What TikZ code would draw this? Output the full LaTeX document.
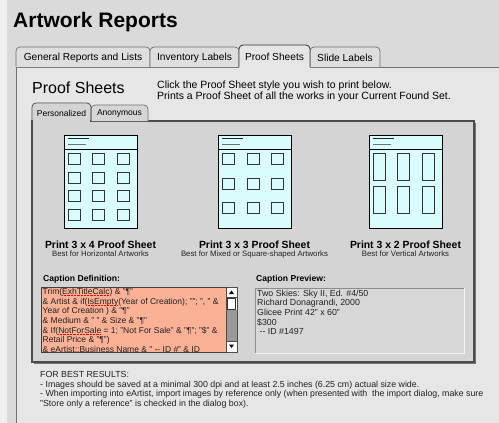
\documentclass[tikz,border=0pt]{standalone}
\usepackage{fontspec}
\setmainfont{Liberation Sans}
\usetikzlibrary{positioning}

\definecolor{winbg}{HTML}{DADADA}
\definecolor{winedge}{HTML}{EFEFEF}
\definecolor{panelbg}{HTML}{E6E6E6}
\definecolor{innerbg}{HTML}{D4D4D4}
\definecolor{tabbg}{HTML}{DEDEDE}
\definecolor{tabline}{HTML}{707070}
\definecolor{sheetcol}{HTML}{D9FDFD}
\definecolor{capfill}{HTML}{FAB195}
\definecolor{prevfill}{HTML}{D7D7D7}
\definecolor{darktext}{HTML}{222222}

% red dotted spell-check underline
\newcommand\spellmark[1]{\setbox0\hbox{#1}\rlap{\color{red}\raisebox{-1.6pt}{\hbox to \wd0{\xleaders\hbox{\rule{0.7pt}{0.7pt}\hspace{0.7pt}}\hfil}}}#1}

\begin{document}
\begin{tikzpicture}[x=1pt, y=-1pt,
    tab/.style={draw=tabline, fill=tabbg, line width=0.7pt, rounded corners=4pt},
    tabtext/.style={font=\fontsize{10.2}{12}\selectfont, inner sep=0pt},
    subtext/.style={font=\fontsize{8.5}{10}\selectfont, inner sep=0pt},
    sheet/.style={draw=black, fill=sheetcol, line width=1pt, minimum width=73pt, minimum height=93pt, inner sep=0pt},
    cell/.style={draw=black!80, fill=sheetcol, line width=0.9pt},
    hdr/.style={line width=1.1pt},
    print/.style={font=\bfseries\fontsize{10.4}{12}\selectfont, inner sep=0pt},
    best/.style={font=\fontsize{7.8}{9}\selectfont, inner sep=0pt, text=darktext},
    caption/.style={font=\bfseries\fontsize{8.6}{10}\selectfont, inner sep=0pt, anchor=west},
    code/.style={font=\fontsize{8.5}{9.7}\selectfont, inner sep=0pt, anchor=north west, align=left, text=darktext},
    info/.style={font=\fontsize{8.8}{9.7}\selectfont, inner sep=0pt, anchor=north west, align=left, text=darktext}]
  \useasboundingbox (0,0) rectangle (499,423);
  % window
  \fill[winbg] (0,0) rectangle (499,423);
  \fill[winedge] (0,0) rectangle (7,423);
  \node[anchor=west, inner sep=0pt, font=\bfseries\fontsize{21}{24}\selectfont] (title) at (13,22) {Artwork Reports};

  % main tabs
  \fill[panelbg] (16,67) rectangle (505,430);
  \draw[tabline, line width=0.8pt] (505,67) -- (16,67) -- (16,430);
  \draw[tab] (16,67) -- (16,47) -- (150,47) -- (150,67);
  \draw[tab] (150,67) -- (150,47) -- (239,47) -- (239,67);
  \draw[tab] (310,67) -- (310,47) -- (380,47) -- (380,67);
  \fill[panelbg] (239.4,67.6) -- (239.4,46) -- (309.6,46) -- (309.6,67.6) -- cycle;
  \draw[tab, fill=none, draw=black!75, line width=0.9pt] (239,67) -- (239,45) -- (310,45) -- (310,67);
  \node[tabtext] (tGeneral) at (83,57.5) {General Reports and Lists};
  \node[tabtext] (tInventory) at (194.5,57.5) {Inventory Labels};
  \node[tabtext] (tProof) at (274.5,56.5) {Proof Sheets};
  \node[tabtext] (tSlide) at (345,57.5) {Slide Labels};

  % heading
  \node[anchor=west, inner sep=0pt, font=\fontsize{16}{19}\selectfont] (heading) at (32,88) {Proof Sheets};
  \node[anchor=north west, inner sep=0pt, align=left, font=\fontsize{10.5}{11.6}\selectfont] (intro) at (157,80.5)
    {Click the Proof Sheet style you wish to print below.\\Prints a Proof Sheet of all the works in your Current Found Set.};

  % inner panel
  \fill[black!55] (33.5,122.5) rectangle (475.5,363.5);
  \draw[black!70, fill=innerbg, line width=1.1pt] (32,121) rectangle (474,362);
  \draw[tab, fill=black!16] (91,121) -- (91,105) -- (148,105) -- (148,121);
  \fill[innerbg] (32.6,121.6) -- (32.6,104) -- (90.4,104) -- (90.4,121.6) -- cycle;
  \draw[tab, fill=none, draw=black!75] (32,121) -- (32,103) -- (91,103) -- (91,121);
  \node[subtext] (tPersonal) at (61.5,113) {Personalized};
  \node[subtext] (tAnon) at (119.5,113.5) {Anonymous};

  % proof sheets
  \node[sheet] (sheetA) at (100.5,181.5) {};
  \node[sheet] (sheetB) at (254.5,181.5) {};
  \node[sheet] (sheetC) at (405.5,181.5) {};
  \foreach \s in {sheetA,sheetB,sheetC} {
    \begin{scope}[shift={(\s.north west)}]
      \draw[hdr, black!85] (4,4) -- (25,4);
      \draw[hdr, black!55] (4,10) -- (22,10);
      \draw[line width=0.9pt] (0,15) -- (73,15);
    \end{scope}
  }
  \begin{scope}[shift={(sheetA.north west)}]
    \foreach \cx in {5,29,54}
      \foreach \cy in {19,38,56,74.5}
        \draw[cell] (\cx,\cy) rectangle ++(12,11);
  \end{scope}
  \begin{scope}[shift={(sheetB.north west)}]
    \foreach \cx in {5,30,54}
      \foreach \cy in {19,43.5,68}
        \draw[cell] (\cx,\cy) rectangle ++(12,11);
  \end{scope}
  \begin{scope}[shift={(sheetC.north west)}]
    \foreach \cx in {5,29,54}
      \foreach \cy in {19,52}
        \draw[cell] (\cx,\cy) rectangle ++(12,27);
  \end{scope}
  \node[print, below=12pt of sheetA] (printA) {Print 3 x 4 Proof Sheet};
  \node[print, below=12pt of sheetB] (printB) {Print 3 x 3 Proof Sheet};
  \node[print, below=12pt of sheetC] (printC) {Print 3 x 2 Proof Sheet};
  \node[best, below=2.5pt of printA] (bestA) {Best for Horizontal Artworks};
  \node[best, below=2.5pt of printB] (bestB) {Best for Mixed or Square-shaped Artworks};
  \node[best, below=2.5pt of printC] (bestC) {Best for Vertical Artworks};

  % caption definition
  \node[caption] (capDef) at (43,279) {Caption Definition:};
  \draw[black!75, fill=capfill, line width=0.8pt] (41,287) rectangle (237,352);
  \begin{scope}
    \clip (41.5,287.5) rectangle (226,351.5);
    \node[code] (capCode) at (42.5,288)
      {Trim(\spellmark{ExhTitleCalc}) \& "¶"\\
       \& Artist \& if(\spellmark{IsEmpty}(Year of Creation); ""; ", " \&\\
       Year of Creation ) \& "¶"\\
       \& Medium \& " " \& Size \& "¶"\\
       \& If(\spellmark{NotForSale} = 1; "Not For Sale" \& "¶"; "\$" \&\\
       Retail Price \& "¶")\\
       \& eArtist::Business Name \& " -{}- ID \#" \& ID};
  \end{scope}
  % scroll bar
  \draw[black!70, fill=white, line width=0.6pt] (226,287) rectangle (237,352);
  \fill[black!40] (226.5,310) rectangle (236.5,341);
  \draw[black!70, line width=0.6pt] (226,297) -- (237,297) (226,341) -- (237,341);
  \draw[black!80, fill=white, line width=0.8pt] (227.5,298.5) rectangle (235.5,309.5);
  \fill[black] (229,294) -- (234,294) -- (231.5,290.5) -- cycle;
  \fill[black] (229,344.5) -- (234,344.5) -- (231.5,348) -- cycle;

  % caption preview
  \node[caption] (capPrev) at (256,279) {Caption Preview:};
  \draw[white!95!black, fill=prevfill, line width=1pt] (255,288) rectangle (464,353);
  \draw[black!45, line width=0.6pt] (255,353) -- (255,288) -- (464,288);
  \node[info] (prevText) at (257,289.5)
    {Two Skies: Sky II, Ed. \#4/50\\
     Richard Donagrandi, 2000\\
     Glicee Print 42" x 60"\\
     \$300\\
     \ -{}- ID \#1497};

  % notes
  \node[info] (results) at (40,371)
    {FOR BEST RESULTS:\\
     - Images should be saved at a minimal 300 dpi and at least 2.5 inches (6.25 cm) actual size wide.\\
     - When importing into eArtist, import images by reference only (when presented with\ \ the import dialog, make sure\\
     "Store only a reference" is checked in the dialog box).};
\end{tikzpicture}
\end{document}
